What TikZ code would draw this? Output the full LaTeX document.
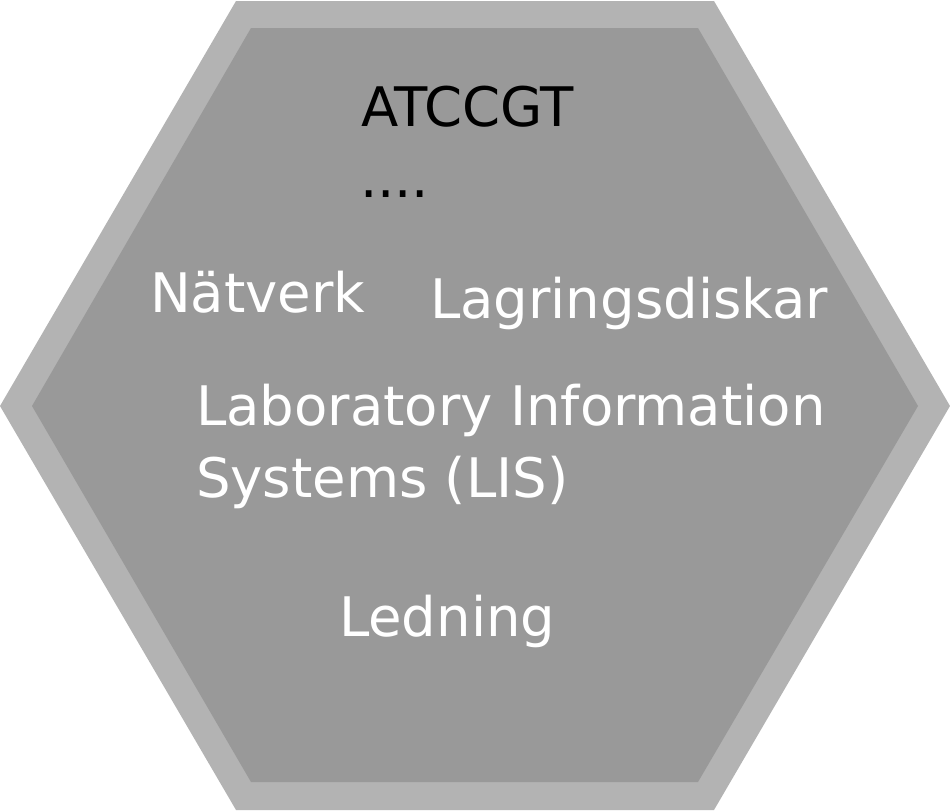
\documentclass[tikz,border=0pt]{standalone}
\usepackage{fontspec}
\setmainfont{DejaVu Sans}
\definecolor{hexouter}{HTML}{B3B3B3}
\definecolor{hexinner}{HTML}{999999}
\tikzset{
  lbl/.style={anchor=base west, inner sep=0pt, outer sep=0pt, font=\fontsize{54.5}{65}\selectfont},
  whitelbl/.style={lbl, text=white},
  blacklbl/.style={lbl, text=black},
}
\begin{document}
\begin{tikzpicture}[x=1pt,y=-1pt]
\useasboundingbox (0,0) rectangle (950,811);
\fill[hexouter] (236,1) -- (714,1) -- (950,406) -- (714,810) -- (236,810) -- (0,406) -- cycle;
\fill[hexinner] (251,28) -- (698,28) -- (918,406) -- (698,782) -- (251,782) -- (32,406) -- cycle;
\node[blacklbl] (atc) at (361,126) {ATCCGT};
\node[blacklbl] (dots) at (360,197) {....};
\node[whitelbl] (nat) at (150,312) {Nätverk};
\node[whitelbl] (lag) at (430,318) {Lagringsdiskar};
\node[whitelbl] (lab) at (196,425) {Laboratory Information};
\node[whitelbl] (sys) at (196,497) {Systems (LIS)};
\node[whitelbl] (led) at (339,636) {Ledning};
\end{tikzpicture}
\end{document}
